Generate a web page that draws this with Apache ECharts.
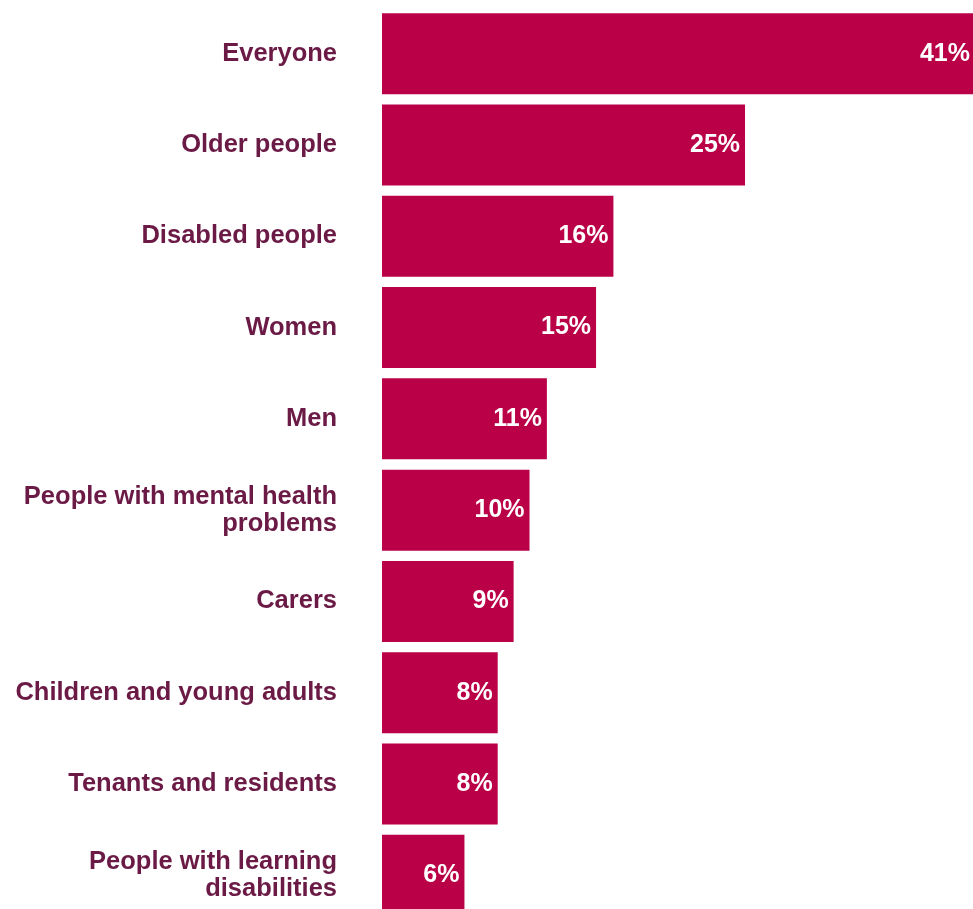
<!DOCTYPE html>
<html><head><meta charset="utf-8">
<script src="https://cdn.jsdelivr.net/npm/echarts@6/dist/echarts.min.js"></script>
<style>html,body{margin:0;padding:0;background:#fff}#c{width:973px;height:909px}</style>
</head><body><div id="c"></div>
<script>
const categories = ["Everyone","Older people","Disabled people","Women","Men","People with mental health\nproblems","Carers","Children and young adults","Tenants and residents","People with learning\ndisabilities"];
const values = [41, 25.1, 16, 14.8, 11.4, 10.2, 9.1, 8, 8, 5.7];
const valueLabels = ["41%","25%","16%","15%","11%","10%","9%","8%","8%","6%"];

const chart = echarts.init(document.getElementById('c'), null, {renderer:'canvas'});
chart.setOption({
  animation:false,
  grid:{left:382, top:8, width:593, height:913, containLabel:false, outerBoundsMode:'none'},
  xAxis:{type:'value', min:0, max:41, show:false},
  yAxis:{type:'category', inverse:true, data:categories,
    axisLine:{show:false}, axisTick:{show:false},
    axisLabel:{margin:45, color:'#6B1A45', fontFamily:'Liberation Sans, Arial, sans-serif', fontWeight:'bold', fontSize:25.5, lineHeight:27, align:'right', padding:[5,0,0,0]}},
  series:[{type:'bar', data:values, barCategoryGap:'11.3%',
    itemStyle:{color:'#BA0047'},
    label:{show:true, position:'insideRight', distance:5, color:'#fff', fontFamily:'Liberation Sans, Arial, sans-serif', fontWeight:'bold', fontSize:25, padding:[5,0,0,0],
      formatter:p=>valueLabels[p.dataIndex]}}]
});
</script></body></html>
